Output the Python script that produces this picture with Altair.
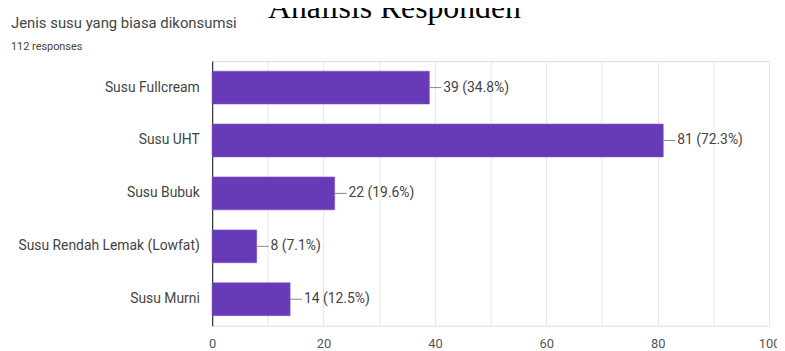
import altair as alt
import pandas as pd

categories = ["Susu Fullcream", "Susu UHT", "Susu Bubuk", "Susu Rendah Lemak (Lowfat)", "Susu Murni"]
counts = [39, 81, 22, 8, 14]
percents = ["34.8%", "72.3%", "19.6%", "7.1%", "12.5%"]
tick_values = [0, 10, 20, 30, 40, 50, 60, 70, 80, 90, 100]

main_title = "Analisis Responden"
question = "Jenis susu yang biasa dikonsumsi"
responses = "112 responses"

df = pd.DataFrame({
    "cat": categories,
    "count": counts,
    "label": [f"{c} ({p})" for c, p in zip(counts, percents)],
})

x_scale = alt.Scale(domain=[0, 100], nice=False)
y_scale = alt.Scale(domain=categories, paddingInner=0.38, paddingOuter=0.19)

base = alt.Chart(df)

bars = base.mark_bar(color="#673ab7", stroke="#7b52c4", strokeWidth=0.6).encode(
    x=alt.X("count:Q", scale=x_scale, axis=alt.Axis(
        values=tick_values, title=None, grid=True, gridColor="#e6e6e6", gridWidth=1,
        ticks=False, domain=False, labelFont="Roboto", labelFontSize=13,
        labelColor="#555555", labelPadding=12, labelFlush=False, labelOverlap=False,
        labelExpr="datum.value % 20 == 0 ? datum.label : ''")),
    y=alt.Y("cat:N", scale=y_scale, sort=categories, axis=alt.Axis(
        title=None, ticks=False, domain=True, domainColor="#333333", domainWidth=1.2,
        labelFont="Roboto", labelFontSize=14, labelColor="#444444", labelPadding=13,
        labelLimit=300)),
)

leaders = base.mark_rule(color="#888888", strokeWidth=1, x2Offset=12).encode(
    x=alt.X("count:Q", scale=x_scale),
    x2=alt.X2("count:Q"),
    y=alt.Y("cat:N", scale=y_scale, sort=categories),
)

labels = base.mark_text(align="left", baseline="middle", dx=14, font="Roboto",
                        fontSize=14, color="#444444").encode(
    x=alt.X("count:Q", scale=x_scale),
    y=alt.Y("cat:N", scale=y_scale, sort=categories),
    text="label:N",
)

tdf = pd.DataFrame({"t": [main_title]})
qdf = pd.DataFrame({"t": [question]})
rdf = pd.DataFrame({"t": [responses]})

t_main = alt.Chart(tdf).mark_text(align="center", baseline="alphabetic", font="Liberation Serif",
                                   fontSize=32, color="#000000").encode(
    x=alt.value(184), y=alt.value(-43), text="t:N")
t_q = alt.Chart(qdf).mark_text(align="left", baseline="alphabetic", font="Roboto",
                               fontSize=15, color="#444444").encode(
    x=alt.value(-203), y=alt.value(-33), text="t:N")
t_r = alt.Chart(rdf).mark_text(align="left", baseline="alphabetic", font="Roboto",
                               fontSize=11, color="#444444").encode(
    x=alt.value(-203), y=alt.value(-11), text="t:N")

chart = alt.layer(bars, leaders, labels, t_main, t_q, t_r).properties(
    width=562, height=267,
    autosize=alt.AutoSizeParams(type="none"),
    padding={"left": 206, "top": 52, "right": 8, "bottom": 30},
).configure_view(stroke="#e6e6e6").configure(background="white")

chart.save("out.html", embed_options={"renderer": "svg", "actions": False})
